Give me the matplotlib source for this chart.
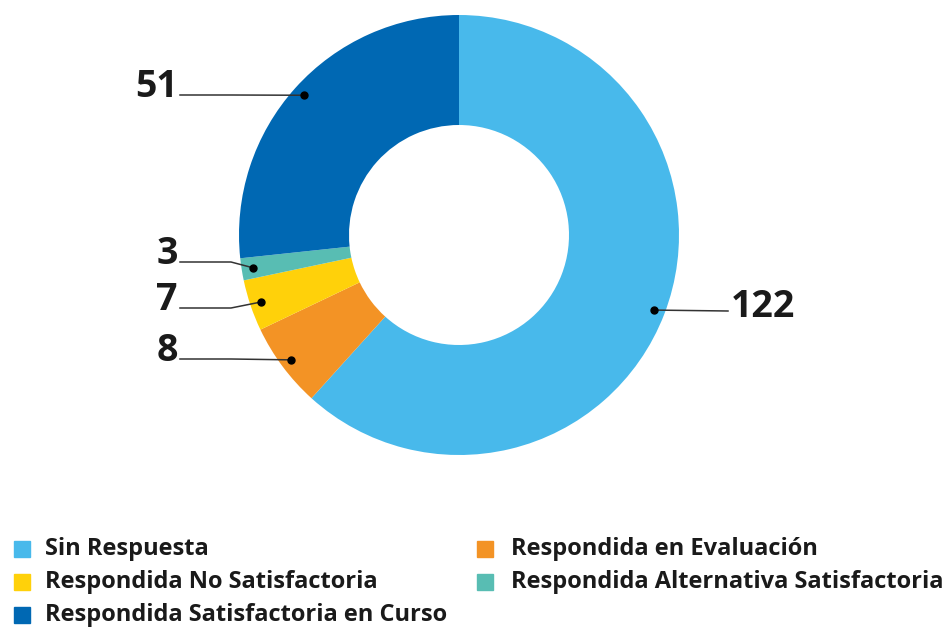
import numpy as np
import matplotlib.pyplot as plt
from matplotlib.patches import Rectangle

# data (clockwise from 12 o'clock)
categories = ['Sin Respuesta', 'Respondida en Evaluación', 'Respondida No Satisfactoria',
              'Respondida Alternativa Satisfactoria', 'Respondida Satisfactoria en Curso']
values = [122, 8, 7, 3, 51]
# arc sizes as drawn in the source chart (its 122 / 8 wedges are not to scale)
arc_sizes = [117.9, 11.9, 7.2, 3.1, 51]
colors = ['#48B9EB', '#F39325', '#FFD10A', '#58BDB3', '#0068B3']

# legend order (column-wise, as in the reference)
legend_order = [0, 2, 4, 1, 3]

W, H = 947, 629
fig = plt.figure(figsize=(W / 100, H / 100), dpi=100)
plt.rcParams['font.family'] = ['Open Sans', 'DejaVu Sans']

cx, cy, R = 459, 235, 220   # donut centre / radius in px (from top)
ax = fig.add_axes([(cx - R) / W, (H - cy - R) / H, 2 * R / W, 2 * R / H])
wedges, _ = ax.pie(arc_sizes, colors=colors, startangle=90, counterclock=False,
                   radius=1.0, wedgeprops=dict(width=0.5, linewidth=0))
ax.set_xlim(-1, 1)
ax.set_ylim(-1, 1)
ax.axis('off')

# y of each label's horizontal line (px from top)
line_y = {0: 311, 1: 359, 2: 308, 3: 262, 4: 95}
left_end = (180 - cx) / R
left_elbow = (231 - cx) / R
right_end = (728 - cx) / R
txt_col = '#1a1a1a'

for i, w in enumerate(wedges):
    ang = np.deg2rad((w.theta1 + w.theta2) / 2)
    dx, dy = 0.95 * np.cos(ang), 0.95 * np.sin(ang)
    ly = (cy - line_y[i]) / R
    if dx > 0:
        ax.plot([dx, right_end], [dy, ly], color='#333333', lw=1.1, clip_on=False, zorder=4)
        ax.text(right_end + 0.015, ly + 0.02, str(values[i]), ha='left', va='center',
                fontsize=27, fontweight='bold', color=txt_col, clip_on=False)
    else:
        ax.plot([dx, left_elbow, left_end], [dy, ly, ly], color='#333333', lw=1.1,
                clip_on=False, zorder=4)
        ax.text(left_end - 0.01, ly + 0.035, str(values[i]), ha='right', va='center',
                fontsize=27, fontweight='bold', color=txt_col, clip_on=False)
    ax.plot(dx, dy, 'o', color='black', ms=5, zorder=5, clip_on=False)

# legend (manual, two columns)
sq_x = [14, 477]
txt_x = [45, 511]
row_y = [549, 582, 615]
for k, idx in enumerate(legend_order):
    c, r = (0, k) if k < 3 else (1, k - 3)
    y0 = row_y[r]
    fig.patches.append(Rectangle((sq_x[c] / W, (H - y0 - 8) / H), 16 / W, 16 / H,
                                 transform=fig.transFigure, color=colors[idx]))
    fig.text(txt_x[c] / W, (H - y0) / H, categories[idx], ha='left', va='center',
             fontsize=17, fontweight='bold', color=txt_col)

fig.savefig('out.png', dpi=100, facecolor='white')
